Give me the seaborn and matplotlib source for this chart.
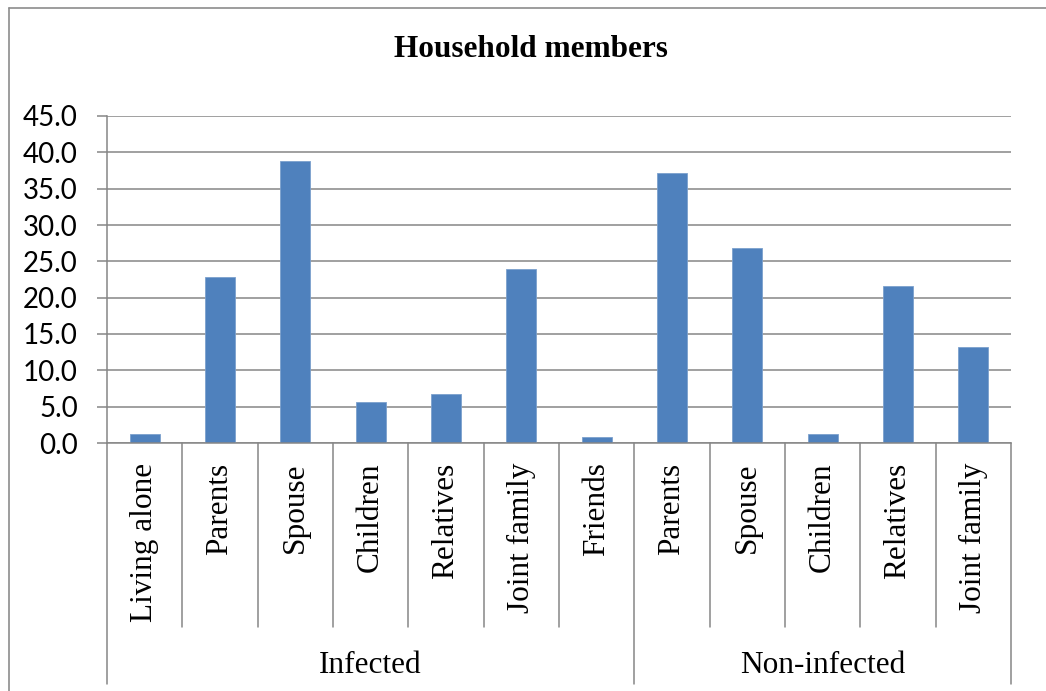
import matplotlib
matplotlib.use("Agg")
import matplotlib.pyplot as plt
from matplotlib.lines import Line2D
import pandas as pd
import seaborn as sns

# Share of respondents (%) by household composition
groups = ["Infected", "Non-infected"]
infected_members = ["Living alone", "Parents", "Spouse", "Children",
                    "Relatives", "Joint family", "Friends"]
infected_pct = [1.2, 22.8, 38.8, 5.6, 6.8, 24.0, 0.8]
noninfected_members = ["Parents", "Spouse", "Children", "Relatives", "Joint family"]
noninfected_pct = [37.2, 26.8, 1.2, 21.6, 13.2]
y_ticks = [0, 5, 10, 15, 20, 25, 30, 35, 40, 45]

df = pd.DataFrame({
    "group": [groups[0]] * len(infected_members) + [groups[1]] * len(noninfected_members),
    "member": infected_members + noninfected_members,
    "pct": infected_pct + noninfected_pct,
})
df["slot"] = df["group"] + " / " + df["member"]

sns.set_style("white")
plt.rcParams["font.family"] = ["Liberation Serif", "DejaVu Serif"]
plt.rcParams["text.color"] = "black"
plt.rcParams["xtick.labelcolor"] = "black"
plt.rcParams["ytick.labelcolor"] = "black"

GRID = "#868686"
BAR = "#4F81BD"
SERIF = "Liberation Serif"

fig = plt.figure(figsize=(10.46, 6.91), dpi=100)
ax = fig.add_axes([107 / 1046, 1 - 443 / 691, (1011 - 107) / 1046, (443 - 116) / 691])

sns.barplot(data=df, x="slot", y="pct", order=list(df["slot"]), color=BAR,
            width=0.4, saturation=1, edgecolor="#7BA0CD", linewidth=0.6, ax=ax)

n = len(df)
ax.set_xlim(-0.5, n - 0.5)
ax.set_ylim(0, 45)
ax.set_yticks(y_ticks)
ax.set_yticklabels([f"{v:.1f}" for v in y_ticks], fontfamily="Lato", fontsize=20,
                   color="black")
ax.yaxis.grid(True, color=GRID, linewidth=1.1)
ax.set_axisbelow(True)
ax.set_xlabel("")
ax.set_ylabel("")

for side in ["top", "right"]:
    ax.spines[side].set_visible(False)
for side in ["left", "bottom"]:
    ax.spines[side].set_color(GRID)
    ax.spines[side].set_linewidth(1.1)

ax.tick_params(axis="y", which="both", left=True, length=7, width=1.1,
               color=GRID, pad=14, labelcolor="black")
ax.set_xticks(range(n))
ax.set_xticklabels(df["member"], rotation=90, fontfamily=SERIF, fontsize=22.5,
                   color="black")
ax.tick_params(axis="x", length=0, pad=14, labelcolor="black")

# Two-level category axis: separators between members and between groups
xt = ax.get_xaxis_transform()
n_inf = len(infected_members)
for b in range(n + 1):
    xb = b - 0.5
    deep = b in (0, n_inf, n)
    ax.add_line(Line2D([xb, xb], [0, -0.737 if deep else -0.5627], transform=xt,
                       color=GRID, linewidth=1.1, clip_on=False))

ax.text((n_inf - 1) / 2, -0.679, groups[0], transform=xt, ha="center", va="center",
        fontfamily=SERIF, fontsize=22.5, color="black")
ax.text(n_inf + (len(noninfected_members) - 1) / 2, -0.679, groups[1], transform=xt,
        ha="center", va="center", fontfamily=SERIF, fontsize=22.5, color="black")

fig.text(531 / 1046, 1 - 57 / 691, "Household members", ha="center", va="baseline",
         fontfamily=SERIF, fontweight="bold", fontsize=22.5, color="black")

# Chart frame
fig.add_artist(Line2D([9 / 1046, 9 / 1046], [0, 1 - 8 / 691], transform=fig.transFigure,
                      color="#8C8C8C", linewidth=1.2))
fig.add_artist(Line2D([9 / 1046, 1], [1 - 8 / 691, 1 - 8 / 691], transform=fig.transFigure,
                      color="#8C8C8C", linewidth=1.2))

fig.savefig("out.png", dpi=100)
